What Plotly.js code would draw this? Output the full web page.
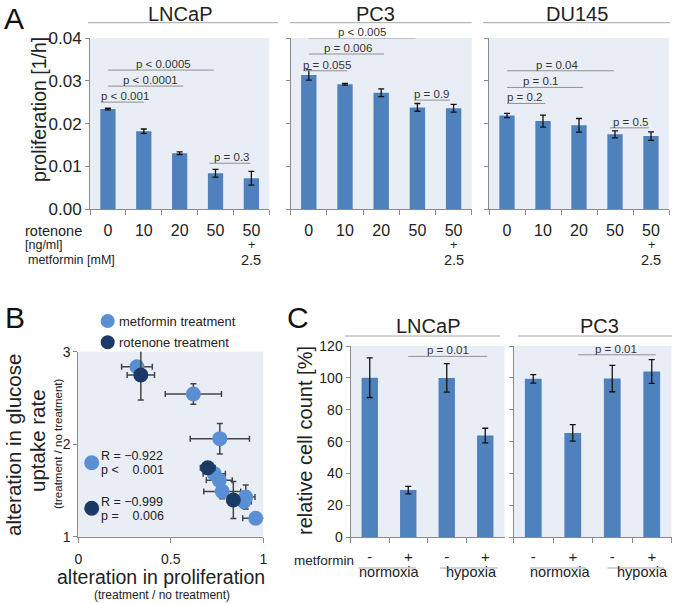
<!DOCTYPE html>
<html>
<head>
<meta charset="utf-8">
<script src="https://cdn.plot.ly/plotly-3.0.1.min.js"></script>
<style>
  html, body { margin: 0; padding: 0; background: #fff; }
  #chart { width: 675px; height: 604px; }
</style>
</head>
<body>
<div id="chart"></div>
<script>
// ---- panel A: proliferation under rotenone / metformin ----
var doses = ['0', '10', '20', '50', '50+met'];
var doseLabels = ['0', '10', '20', '50', '50'];

var lncapProlif = [0.0234, 0.01825, 0.0131, 0.0084, 0.00725];
var lncapProlifErr = [0.0002, 0.0005, 0.0003, 0.0009, 0.0016];
var pc3Prolif = [0.03135, 0.0292, 0.0272, 0.0238, 0.0236];
var pc3ProlifErr = [0.0012, 0.0002, 0.0009, 0.0009, 0.0009];
var du145Prolif = [0.0219, 0.0206, 0.0196, 0.0175, 0.0171];
var du145ProlifErr = [0.0005, 0.0014, 0.0016, 0.0008, 0.001];

// brackets: [from, to, y, label, label x]
var lncapP = [[-0.2, 1, 0.02503, 'p < 0.001', 0.48], [0, 2.1, 0.02877, 'p < 0.0001', 1.18],
              [0, 2.95, 0.03251, 'p < 0.0005', 1.55], [2.83, 3.97, 0.01076, 'p = 0.3', 3.46]];
var pc3P = [[-0.15, 1.06, 0.03235, 'p = 0.055', 0.49], [0, 2.08, 0.03626, 'p = 0.006', 1.09],
            [0, 2.95, 0.0400, 'p < 0.005', 1.46], [2.91, 3.9, 0.0255, 'p = 0.9', 3.4]];
var du145P = [[0, 1.06, 0.02472, 'p = 0.2', 0.5], [0, 2.12, 0.02846, 'p = 0.1', 0.94],
              [0, 2.97, 0.03235, 'p = 0.04', 1.4], [2.86, 3.94, 0.01902, 'p = 0.5', 3.45]];

// ---- panel B: glucose uptake vs proliferation ----
var metX = [0.317, 0.622, 0.765, 0.735, 0.762, 0.778, 0.905, 0.895, 0.959];
var metY = [2.838, 2.543, 2.06, 1.68, 1.61, 1.49, 1.43, 1.38, 1.2];
var metXErr = [0.083, 0.152, 0.16, 0.06, 0.07, 0.1, 0.05, 0.04, 0.07];
var metYErr = [0.06, 0.11, 0.165, 0.05, 0.06, 0.08, 0.13, 0.07, 0.05];
var rotX = [0.338, 0.70, 0.838];
var rotY = [2.748, 1.745, 1.397];
var rotXErr = [0.074, 0.04, 0.03];
var rotYErr = [0.27, 0.05, 0.2];

// ---- panel C: relative cell count ----
var conds = ['norm -', 'norm +', 'hyp -', 'hyp +'];
var condLabels = ['-', '+', '-', '+'];
var lncapCount = [100.1, 29.6, 100, 63.8];
var lncapCountErr = [12.4, 2.4, 8.9, 4.6];
var pc3Count = [99.4, 65.5, 99.6, 104];
var pc3CountErr = [2.7, 5.2, 8.3, 7.5];

var FONT = 'Liberation Sans, Arial, sans-serif';
var BAR = '#4f81bd';
var AX = '#8a8a8a';
var LIGHT = '#5a8fd4';
var DARK = '#1b3966';
var W = 675, H = 604;
function px(x) { return x / W; }
function py(y) { return 1 - y / H; }

function barTrace(x, y, err, xa, ya) {
  return {
    type: 'bar', x: x, y: y, xaxis: xa, yaxis: ya,
    marker: {color: BAR},
    error_y: {type: 'data', array: err, visible: true, color: '#111', thickness: 1.3, width: 3},
    hoverinfo: 'y'
  };
}

function scatterTrace(x, y, ex, ey, color) {
  return {
    type: 'scatter', mode: 'markers', x: x, y: y, xaxis: 'x4', yaxis: 'y4',
    cliponaxis: false,
    marker: {size: 15, color: color},
    error_x: {type: 'data', array: ex, visible: true, color: '#444', thickness: 1.5, width: 3},
    error_y: {type: 'data', array: ey, visible: true, color: '#444', thickness: 1.5, width: 3}
  };
}

var data = [
  barTrace(doses, lncapProlif, lncapProlifErr, 'x', 'y'),
  barTrace(doses, pc3Prolif, pc3ProlifErr, 'x2', 'y2'),
  barTrace(doses, du145Prolif, du145ProlifErr, 'x3', 'y3'),
  scatterTrace(metX, metY, metXErr, metYErr, LIGHT),
  scatterTrace(rotX, rotY, rotXErr, rotYErr, DARK),
  barTrace(conds, lncapCount, lncapCountErr, 'x5', 'y5'),
  barTrace(conds, pc3Count, pc3CountErr, 'x6', 'y6')
];

function catAxis(dom, anchor, cats, labels, fs, standoff) {
  return {
    domain: dom, anchor: anchor, type: 'category', tickmode: 'array',
    tickvals: cats, ticktext: labels, tickson: 'boundaries',
    ticks: 'outside', ticklen: 5, tickcolor: AX, showline: true, linecolor: AX,
    showgrid: false, tickfont: {size: fs, color: '#222'}, ticklabelstandoff: standoff,
    fixedrange: true
  };
}
function valAxis(dom, anchor, range, dtick, labels, fs, fmt) {
  return {
    domain: dom, anchor: anchor, range: range, dtick: dtick, tickformat: fmt,
    ticks: 'outside', ticklen: 4, tickcolor: AX, showline: true, linecolor: AX,
    showgrid: false, zeroline: false, showticklabels: labels,
    tickfont: {size: fs, color: '#222'}, fixedrange: true
  };
}

var yA = [py(209.3), py(38)];
var yB = [py(536.7), py(351.7)];
var yC = [py(537.3), py(346)];

var layout = {
  width: W, height: H,
  margin: {l: 0, r: 0, t: 0, b: 0},
  paper_bgcolor: '#ffffff', plot_bgcolor: '#e9eef6',
  showlegend: false, bargap: 0.575,
  font: {family: FONT, size: 14, color: '#222'},
  xaxis: catAxis([px(90), px(269.3)], 'y', doses, doseLabels, 16, 6),
  yaxis: valAxis(yA, 'x', [0, 0.04], 0.01, true, 17, '.2f'),
  xaxis2: catAxis([px(290.7), px(471.7)], 'y2', doses, doseLabels, 16, 6),
  yaxis2: valAxis(yA, 'x2', [0, 0.04], 0.01, false, 17, '.2f'),
  xaxis3: catAxis([px(489), px(669)], 'y3', doses, doseLabels, 16, 6),
  yaxis3: valAxis(yA, 'x3', [0, 0.04], 0.01, false, 17, '.2f'),
  xaxis4: valAxis([px(78.3), px(263.3)], 'y4', [0, 1], 0.5, true, 14),
  yaxis4: valAxis(yB, 'x4', [1, 3], 1, true, 14),
  xaxis5: catAxis([px(350.5), px(504.5)], 'y5', conds, condLabels, 15, 6),
  yaxis5: valAxis(yC, 'x5', [0, 120], 20, true, 14),
  xaxis6: catAxis([px(513.5), px(671.5)], 'y6', conds, condLabels, 15, 6),
  yaxis6: valAxis(yC, 'x6', [0, 120], 20, false, 14),
  shapes: [],
  annotations: []
};
layout.xaxis4.ticklen = 5;
layout.xaxis4.ticklabelstandoff = 4;
layout.yaxis4.ticklabelstandoff = 0;

function note(text, x, y, opts) {
  var a = {text: text, x: x, y: y, xref: 'paper', yref: 'paper', showarrow: false,
           xanchor: 'center', yanchor: 'middle', borderpad: 0, font: {size: 14, color: '#222'}};
  for (var k in opts) a[k] = opts[k];
  return a;
}
function hline(x0, x1, y, color) {
  return {type: 'line', xref: 'paper', yref: 'paper', x0: px(x0), x1: px(x1), y0: py(y), y1: py(y),
          line: {color: color || '#a6a6a6', width: 1}};
}

// p-value brackets of panel A
[[lncapP, 'x', 'y'], [pc3P, 'x2', 'y2'], [du145P, 'x3', 'y3']].forEach(function (set) {
  set[0].forEach(function (b) {
    layout.shapes.push({type: 'line', xref: set[1], yref: set[2], x0: b[0], x1: b[1], y0: b[2], y1: b[2],
                        line: {color: '#909090', width: 1}});
    layout.annotations.push({text: b[3], x: b[4], y: b[2], xref: set[1], yref: set[2], showarrow: false,
                             xanchor: 'center', yanchor: 'bottom', yshift: -2,
                             font: {size: 11.5, color: '#333'}});
  });
  layout.annotations.push({text: '+', x: 4, y: py(244.5), xref: set[1], yref: 'paper', showarrow: false,
                           borderpad: 0, font: {size: 12.5, color: '#222'}});
  layout.annotations.push({text: '2.5', x: 4, y: py(259.5), xref: set[1], yref: 'paper', showarrow: false,
                           borderpad: 0, font: {size: 14.5, color: '#222'}});
});

// cell line headers
var A = layout.annotations, S = layout.shapes;
A.push(note('LNCaP', px(180), py(14), {font: {size: 20}}));
A.push(note('PC3', px(375), py(14), {font: {size: 20}}));
A.push(note('DU145', px(577), py(14), {font: {size: 20}}));
S.push(hline(88, 278, 22.7), hline(290, 471.7, 22.7), hline(483, 670, 22.7));
A.push(note('LNCaP', px(428), py(326), {font: {size: 20}}));
A.push(note('PC3', px(599), py(326), {font: {size: 20}}));
S.push(hline(345, 500, 336), hline(518, 672, 336));

// panel letters
A.push(note('A', px(3), py(18), {xanchor: 'left', font: {size: 30, color: '#111'}}));
A.push(note('B', px(4), py(317), {xanchor: 'left', font: {size: 30, color: '#111'}}));
A.push(note('C', px(286), py(317), {xanchor: 'left', font: {size: 30, color: '#111'}}));

// panel A labels
A.push(note('proliferation [1/h]', px(39), py(110), {textangle: -90, font: {size: 19.5}}));
A.push(note('rotenone', px(24), py(231), {xanchor: 'left', font: {size: 14.5}}));
A.push(note('[ng/ml]', px(24), py(245), {xanchor: 'left', font: {size: 12.5}}));
A.push(note('metformin [mM]', px(27), py(260), {xanchor: 'left', font: {size: 12.5}}));

// panel B labels
A.push(note('alteration in glucose', px(13), py(445), {textangle: -90, font: {size: 20.5}}));
A.push(note('uptake rate', px(37), py(441), {textangle: -90, font: {size: 20.5}}));
A.push(note('(treatment / no treatment)', px(58), py(443), {textangle: -90, font: {size: 11.5}}));
A.push(note('alteration in proliferation', px(161), py(577), {font: {size: 19.5}}));
A.push(note('(treatment / no treatment)', px(162), py(595), {font: {size: 12}}));

function dot(cx, cy, r, color) {
  return {type: 'circle', xref: 'paper', yref: 'paper', x0: px(cx - r), x1: px(cx + r),
          y0: py(cy + r), y1: py(cy - r), fillcolor: color, line: {width: 0}};
}
S.push(dot(107.7, 321, 7, LIGHT), dot(107.7, 342.3, 7, DARK));
A.push(note('metformin treatment', px(118), py(321), {xanchor: 'left', font: {size: 13}}));
A.push(note('rotenone treatment', px(118), py(342.3), {xanchor: 'left', font: {size: 13}}));
S.push(dot(91.7, 462.7, 7.5, LIGHT), dot(91.7, 508.3, 7.5, DARK));
A.push(note('R = \u22120.922', px(100), py(456), {xanchor: 'left', font: {size: 12.5}}));
A.push(note('p <\u00a0\u00a0\u00a0 0.001', px(100), py(469.5), {xanchor: 'left', font: {size: 12.5}}));
A.push(note('R = \u22120.999', px(100), py(502), {xanchor: 'left', font: {size: 12.5}}));
A.push(note('p =\u00a0\u00a0\u00a0 0.006', px(100), py(515.5), {xanchor: 'left', font: {size: 12.5}}));

// panel C labels
A.push(note('relative cell count [%]', px(305), py(441), {textangle: -90, font: {size: 20}}));
A.push(note('metformin', px(355), py(560), {xanchor: 'right', font: {size: 13.5}}));
[['x5', [-0.3, 1.2], [1.83, 3.32], 0.52, 2.63], ['x6', [-0.08, 1.34], [1.88, 3.31], 0.68, 2.77]].forEach(function (g) {
  S.push({type: 'line', xref: g[0], yref: 'paper', x0: g[1][0], x1: g[1][1], y0: py(568), y1: py(568),
          line: {color: '#a6a6a6', width: 1}});
  S.push({type: 'line', xref: g[0], yref: 'paper', x0: g[2][0], x1: g[2][1], y0: py(568), y1: py(568),
          line: {color: '#a6a6a6', width: 1}});
  A.push({text: 'normoxia', x: g[3], y: py(582), xref: g[0], yref: 'paper', showarrow: false,
          font: {size: 14.5, color: '#222'}});
  A.push({text: 'hypoxia', x: g[4], y: py(582), xref: g[0], yref: 'paper', showarrow: false,
          font: {size: 14.5, color: '#222'}});
});
// p = 0.01 brackets of panel C
[['x5', 'y5', 1, 3.05, 113.5, 2.03], ['x6', 'y6', 1.14, 3.1, 114.5, 2.1]].forEach(function (b) {
  S.push({type: 'line', xref: b[0], yref: b[1], x0: b[2], x1: b[3], y0: b[4], y1: b[4],
          line: {color: '#909090', width: 1}});
  A.push({text: 'p = 0.01', x: b[5], y: b[4], xref: b[0], yref: b[1], showarrow: false,
          xanchor: 'center', yanchor: 'bottom', yshift: -2, font: {size: 11.5, color: '#333'}});
});

Plotly.newPlot('chart', data, layout, {displayModeBar: false, staticPlot: true});
</script>
</body>
</html>
